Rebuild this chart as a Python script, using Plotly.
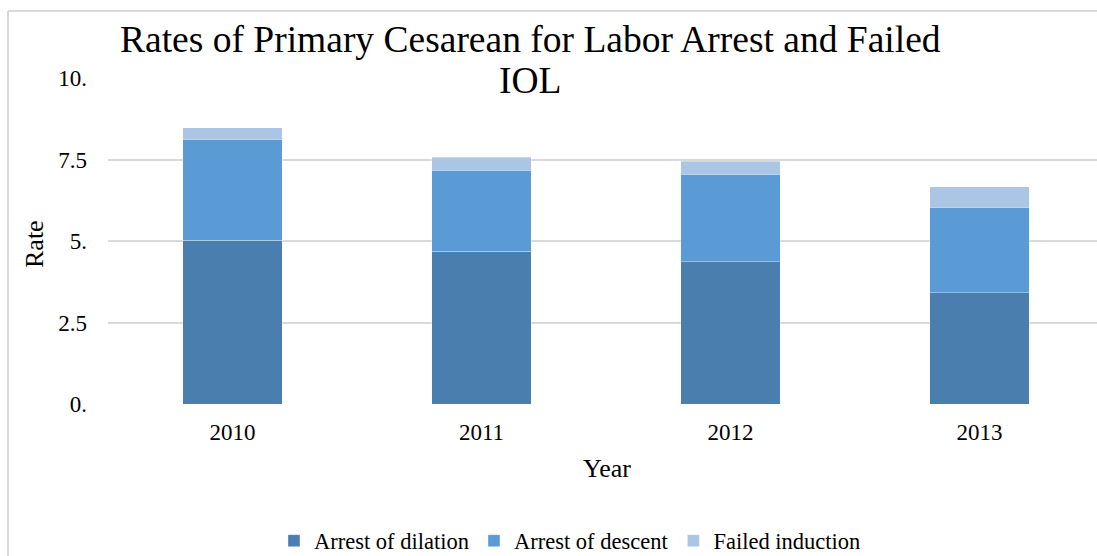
import plotly.graph_objects as go

years = ["2010", "2011", "2012", "2013"]
arrest_dilation = [5.03, 4.68, 4.36, 3.41]
arrest_descent = [3.09, 2.49, 2.69, 2.63]
failed_induction = [0.36, 0.40, 0.40, 0.63]

y_tickvals = [0, 2.5, 5, 7.5, 10]
y_ticktext = ["0.", "2.5", "5.", "7.5", "10."]

title_lines = ["Rates of Primary Cesarean for Labor Arrest and Failed", "IOL"]

series = [
    ("Arrest of dilation", arrest_dilation, "#4A7EAF"),
    ("Arrest of descent", arrest_descent, "#5B9BD5"),
    ("Failed induction", failed_induction, "#ABC5E5"),
]

FONT = "Liberation Serif, Times New Roman, serif"
W, H = 1097, 556
ML, MR, MT = 108, 0, 78
MB = H - 404
PW = W - ML - MR
PH = H - MT - MB


def px_x(p):
    return (p - ML) / PW


def px_y(p):
    return (H - MB - p) / PH


fig = go.Figure()
for name, vals, col in series:
    fig.add_trace(go.Bar(
        x=years, y=vals, name=name, width=0.40,
        marker=dict(color=col, line=dict(color="rgba(255,255,255,0.35)", width=1)),
    ))

fig.update_layout(
    barmode="stack",
    width=W, height=H,
    margin=dict(l=ML, r=MR, t=MT, b=MB, pad=0, autoexpand=False),
    paper_bgcolor="white", plot_bgcolor="white",
    font=dict(family=FONT, size=23, color="#000000"),
    showlegend=True,
    legend=dict(
        orientation="h", x=px_x(570), xanchor="center",
        y=px_y(541), yanchor="middle",
        font=dict(size=22.5, family=FONT, color="#000000"), traceorder="normal",
        itemwidth=30, bgcolor="rgba(0,0,0,0)",
    ),
    xaxis=dict(
        type="category", range=[-0.5, 3.472],
        showgrid=False, showline=False, zeroline=False,
        ticks="", ticklabelstandoff=12, automargin=False,
        tickfont=dict(size=23, family=FONT),
    ),
    yaxis=dict(
        range=[0, 10], tickvals=y_tickvals, ticktext=y_ticktext,
        showgrid=True, gridcolor="#D9D9D9", gridwidth=2,
        zeroline=False, showline=False, ticks="", automargin=False,
        ticklabelstandoff=20, tickfont=dict(size=23, family=FONT),
    ),
    annotations=[
        dict(text=title_lines[0],
             x=px_x(530), y=px_y(17), xref="paper", yref="paper",
             xanchor="center", yanchor="top", showarrow=False,
             font=dict(size=37.5, family=FONT)),
        dict(text=title_lines[1],
             x=px_x(530), y=px_y(58), xref="paper", yref="paper",
             xanchor="center", yanchor="top", showarrow=False,
             font=dict(size=37.5, family=FONT)),
        dict(text="Rate", x=px_x(35), y=px_y(244), xref="paper", yref="paper",
             xanchor="center", yanchor="middle", textangle=-90, showarrow=False,
             font=dict(size=26, family=FONT)),
        dict(text="Year", x=px_x(607), y=px_y(468), xref="paper", yref="paper",
             xanchor="center", yanchor="middle", showarrow=False,
             font=dict(size=26, family=FONT)),
    ],
    shapes=[
        dict(type="line", xref="paper", yref="paper",
             x0=px_x(8), x1=px_x(8), y0=px_y(11), y1=px_y(600),
             line=dict(color="#D9D9D9", width=2)),
        dict(type="line", xref="paper", yref="paper",
             x0=px_x(8), x1=px_x(1120), y0=px_y(11), y1=px_y(11),
             line=dict(color="#D9D9D9", width=2)),
    ],
)

fig.write_html(
    "out.html",
    config={"displayModeBar": False},
    post_script="document.body.style.margin='0';document.body.style.overflow='hidden';",
)
